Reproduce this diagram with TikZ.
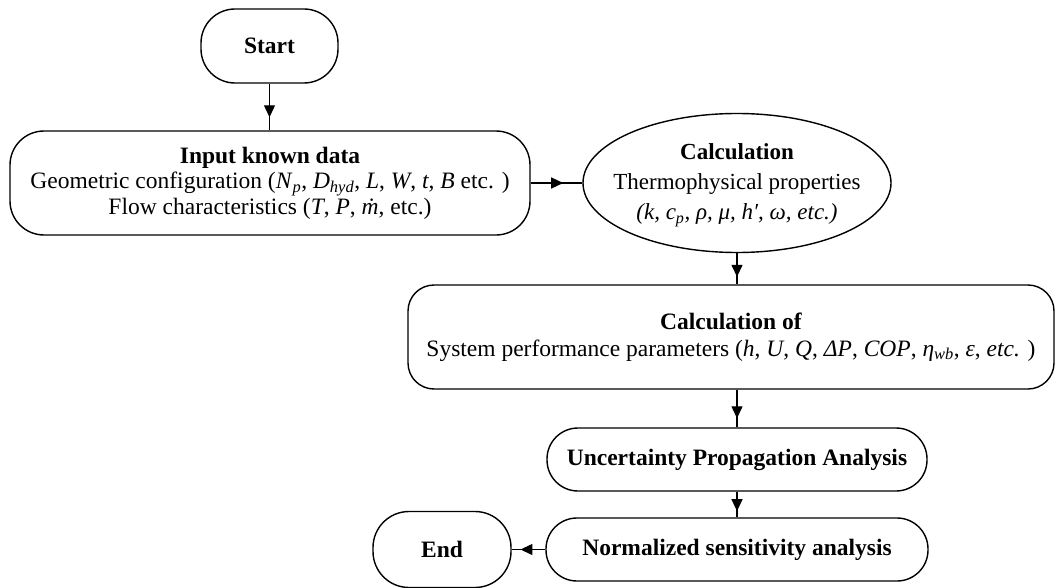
\documentclass[tikz,border=0pt]{standalone}
\usepackage{fontspec}
\setmainfont{Liberation Serif}
\usetikzlibrary{arrows.meta,decorations.markings,shapes.geometric}
\begin{document}
\begin{tikzpicture}[x=1pt,y=-1pt,
  every node/.style={font=\fontsize{23.5}{26}\selectfont},
  rbox/.style={draw, line width=1.4pt, rounded corners=#1, align=center, inner sep=0pt},
  oval/.style={draw, line width=1.4pt, ellipse, align=center, inner sep=0pt},
  conn/.style={line width=1.3pt, postaction={decorate},
    decoration={markings, mark=at position #1 with {\arrow{Triangle[length=12pt,width=11pt]}}}},
  conn/.default=0.72]
\useasboundingbox (0,0) rectangle (1056,588);
\node[rbox=34pt, minimum width=137pt, minimum height=74pt] (start) at (269.5,46) {\textbf{Start}};
\node[rbox=34pt, minimum width=520pt, minimum height=104pt,
  font=\fontsize{23.5}{25.5}\selectfont] (input) at (270,183)
  {\textbf{Input known data}\\
   Geometric configuration (\textit{N}\textsubscript{\textit{p}}, \textit{D}\textsubscript{\textit{hyd}}, \textit{L}, \textit{W}, \textit{t}, \textit{B} etc. )\\
   Flow characteristics (\textit{T}, \textit{P}, \textit{\.{m}}, etc.)};
\node[oval, minimum width=308pt, minimum height=139pt,
  font=\fontsize{23}{30}\selectfont] (calc) at (737,183) {};
\node[align=center, font=\fontsize{23}{30}\selectfont, inner sep=0pt] (calctext) at (737,185)
  {\textbf{Calculation}\\ Thermophysical properties\\
   \textit{(k, c\textsubscript{p}, ρ, μ, h′, ω, etc.)}};
\node[rbox=26pt, minimum width=646pt, minimum height=104pt,
  font=\fontsize{23.5}{27}\selectfont] (perf) at (731,337)
  {\textbf{Calculation of}\\
   System performance parameters (\textit{h}, \textit{U}, \textit{Q}, \textit{ΔP}, \textit{COP}, \textit{η}\textsubscript{\textit{wb}}, \textit{ε}, \textit{etc.} )};
\node[rbox=31pt, minimum width=380pt, minimum height=63pt] (unc) at (737,459.5)
  {\textbf{Uncertainty Propagation Analysis}};
\node[rbox=31pt, minimum width=382pt, minimum height=63pt] (norm) at (737,549.5)
  {\textbf{Normalized sensitivity analysis}};
\node[rbox=36pt, minimum width=138pt, minimum height=76pt] (end) at (442,549.5)
  {\textbf{End}};
\draw[conn] (start.south) -- (start.south |- input.north);
\draw[conn=0.63] (input.east) -- (calc.west);
\draw[conn=0.76] (calc.south) -- (calc.south |- perf.north);
\draw[conn=0.76] (unc.north |- perf.south) -- (unc.north);
\draw[conn=0.76] (unc.south) -- (norm.north);
\draw[conn=0.74] (norm.west) -- (end.east);
\end{tikzpicture}
\end{document}
